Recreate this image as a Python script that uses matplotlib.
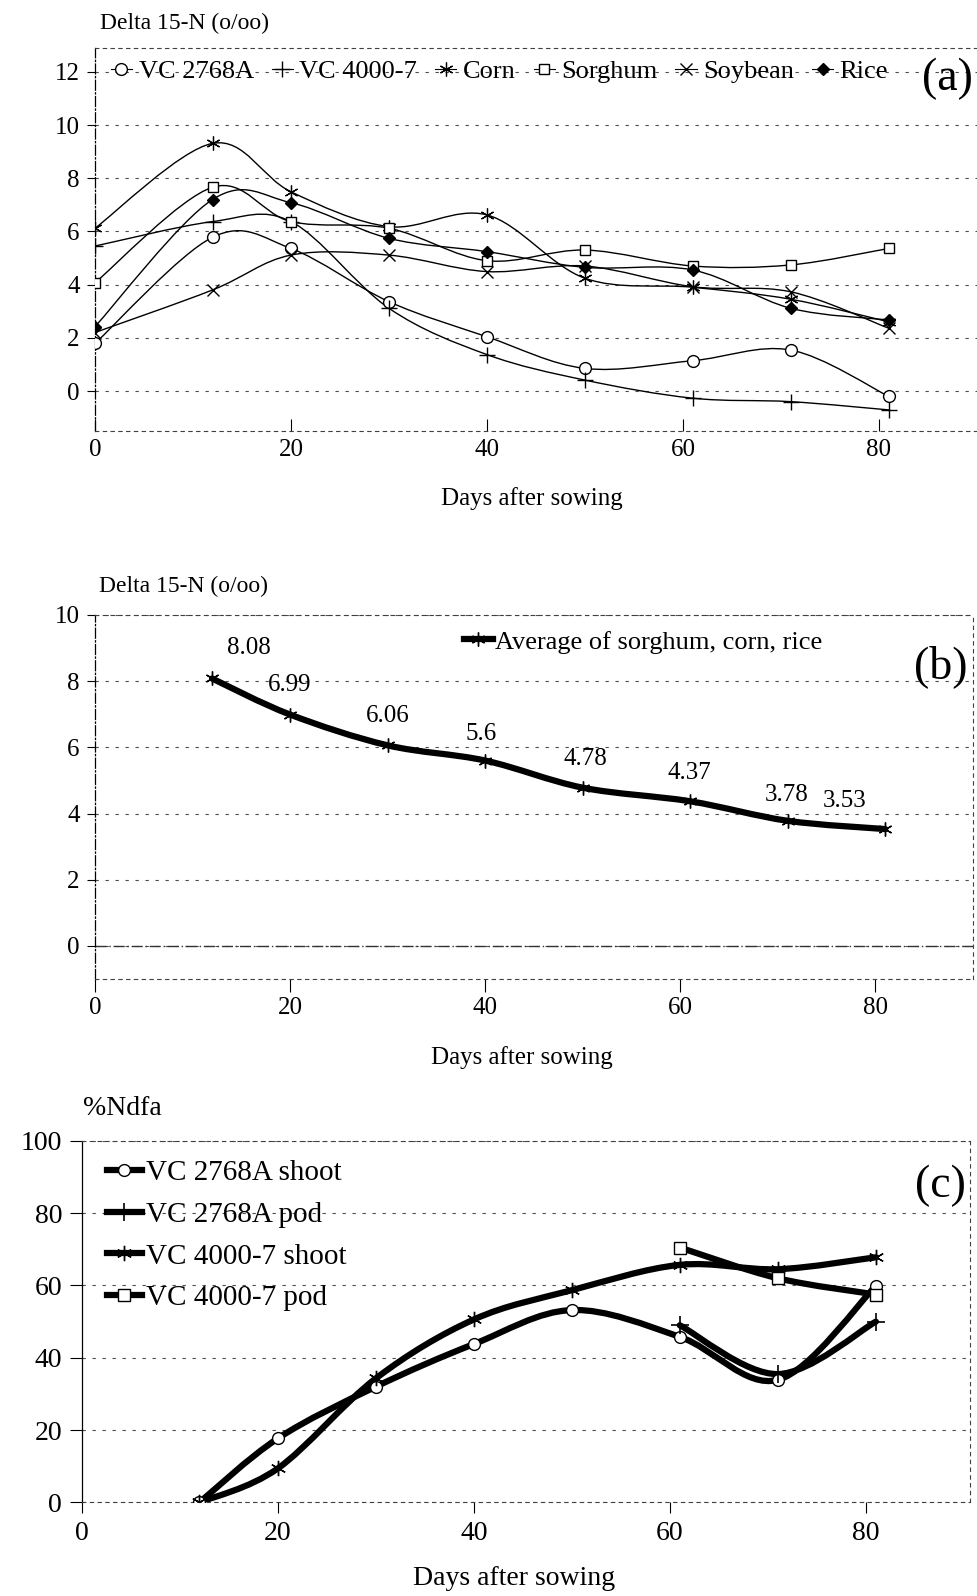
import numpy as np
import matplotlib
matplotlib.use('Agg')
import matplotlib.pyplot as plt
from matplotlib.path import Path
from matplotlib.patches import PathPatch
from matplotlib.lines import Line2D

plt.rcParams['font.family'] = ['Liberation Serif', 'DejaVu Serif']

# (a) delta 15N of the test plants
days_a = [0, 12, 20, 30, 40, 50, 61, 71, 81]
vc2768a = [1.79, 5.78, 5.36, 3.36, 2.04, 0.85, 1.14, 1.54, -0.2]
vc4000 = [5.45, 6.37, 6.37, 3.11, 1.37, 0.41, -0.27, -0.4, -0.71]
corn = [6.12, 9.31, 7.49, 6.18, 6.62, 4.24, 3.9, 3.45, 2.6]
sorghum = [4.07, 7.66, 6.37, 6.12, 4.9, 5.3, 4.7, 4.74, 5.36]
soybean = [2.2, 3.8, 5.11, 5.11, 4.49, 4.7, 3.92, 3.73, 2.36]
rice = [2.42, 7.2, 7.08, 5.74, 5.24, 4.65, 4.55, 3.11, 2.67]

# (b) average of the reference plants
days_b = [12, 20, 30, 40, 50, 61, 71, 81]
avg_ref = [8.08, 6.99, 6.06, 5.6, 4.78, 4.37, 3.78, 3.53]

# (c) %Ndfa
days_c = [12, 20, 30, 40, 50, 61, 71, 81]
vc2768a_shoot = [0, 17.7, 32.0, 43.8, 53.2, 45.8, 33.9, 59.9]
vc4000_shoot = [0, 9.4, 34.3, 50.6, 58.7, 65.7, 64.5, 67.8]
days_pod = [61, 71, 81]
vc2768a_pod = [49.0, 35.5, 50.0]
vc4000_pod = [70.5, 62.0, 57.5]

ASTER = (6, 2, 0)


def smooth_line(ax, xs, ys, lw):
    # Excel-style smoothed line (Bezier through the points)
    p = np.column_stack([xs, ys]).astype(float)
    n = len(p)
    verts = [p[0]]
    codes = [Path.MOVETO]
    for i in range(n - 1):
        p0 = p[max(i - 1, 0)]
        p1 = p[i]
        p2 = p[i + 1]
        p3 = p[min(i + 2, n - 1)]
        verts += [p1 + (p2 - p0) / 6, p2 - (p3 - p1) / 6, p2]
        codes += [Path.CURVE4] * 3
    ax.add_patch(PathPatch(Path(verts, codes), fill=False, ec='black', lw=lw,
                           capstyle='round', joinstyle='round', zorder=2))


def frame(ax, right=True):
    ax.spines['left'].set_linestyle((0, (8, 2, 1, 2)))
    ax.spines['left'].set_linewidth(0.9)
    for s in ['top', 'bottom', 'right']:
        ax.spines[s].set_linestyle((0, (3, 4)))
        ax.spines[s].set_linewidth(0.8)
        ax.spines[s].set_color('0.25')
    ax.spines['right'].set_visible(right)
    ax.grid(axis='y', linestyle=(0, (3, 6)), linewidth=0.8, color='0.3')
    ax.set_axisbelow(True)


fig = plt.figure(figsize=(9.78, 15.96), dpi=100)

# ---------------- (a) ----------------
ax1 = fig.add_axes([0.0971, 0.730, 0.9018, 0.240])
series_a = [
    ('VC 2768A', vc2768a, dict(marker='o', ms=8.5, mfc='white')),
    ('VC 4000-7', vc4000, dict(marker='+', ms=11, mew=1.0)),
    ('Corn', corn, dict(marker=ASTER, ms=10, mew=0.9)),
    ('Sorghum', sorghum, dict(marker='s', ms=7.5, mfc='white')),
    ('Soybean', soybean, dict(marker='x', ms=9, mew=1.0)),
    ('Rice', rice, dict(marker='D', ms=6, mfc='black')),
]
handles = []
for name, vals, st in series_a:
    smooth_line(ax1, days_a, vals, 1.0)
    ax1.plot(days_a, vals, ls='none', color='black', mec='black', zorder=3, **st)
    handles.append(Line2D([], [], color='black', lw=0.8, mec='black', **st))
ax1.set_xlim(0, 90)
ax1.set_ylim(-1.5, 12.9)
ax1.set_xticks([0, 20, 40, 60, 80])
ax1.set_yticks([0, 2, 4, 6, 8, 10, 12])
ax1.tick_params(axis='x', direction='in', length=9, pad=6, labelsize=18)
ax1.tick_params(axis='y', direction='out', length=6, pad=5, labelsize=18)
frame(ax1, right=False)
ax1.legend(handles, [s[0] for s in series_a], ncol=6, loc='center left',
           bbox_to_anchor=(0.018, 0.938), frameon=False, fontsize=19,
           handlelength=0.8, handletextpad=0.25, columnspacing=0.68,
           borderpad=0, borderaxespad=0)
ax1.text(0.966, 0.919, '(a)', transform=ax1.transAxes, fontsize=33,
         ha='center', va='center')
ax1.set_ylabel('Delta 15-N (o/oo)', rotation=0, ha='left', va='center', fontsize=17)
ax1.yaxis.set_label_coords(0.006, 1.063)
ax1.set_xlabel('Days after sowing', fontsize=18, va='center')
ax1.xaxis.set_label_coords(0.4955, -0.1775)

# ---------------- (b) ----------------
ax2 = fig.add_axes([0.0971, 0.3866, 0.8978, 0.2281])
smooth_line(ax2, days_b, avg_ref, 4.5)
ax2.plot(days_b, avg_ref, ls='none', marker=ASTER, ms=10, mew=1.0,
         color='black', zorder=3)
label_off = [(37, 30), (0, 30), (0, 29), (-4, 27), (3, 29), (-1, 28), (-1, 26), (-41, 28)]
for x, v, off in zip(days_b, avg_ref, label_off):
    ax2.annotate(f'{v:g}', (x, v), xytext=off, textcoords='offset pixels',
                 ha='center', va='center', fontsize=18)
ax2.set_xlim(0, 90)
ax2.set_ylim(-1, 10)
ax2.set_xticks([0, 20, 40, 60, 80])
ax2.set_yticks([0, 2, 4, 6, 8, 10])
ax2.tick_params(axis='x', direction='out', length=9, pad=4, labelsize=18)
ax2.tick_params(axis='y', direction='out', length=6, pad=5, labelsize=18)
frame(ax2)
ax2.axhline(0, color='0.2', lw=1.0, ls=(0, (8, 2, 1, 2)), zorder=1)
ax2.legend([Line2D([], [], color='black', lw=4.5, marker=ASTER, ms=10, mew=1.0)],
           ['Average of sorghum, corn, rice'], loc='center left',
           bbox_to_anchor=(0.42, 0.926), frameon=False, fontsize=19,
           handlelength=1.1, handletextpad=0.1, borderpad=0, borderaxespad=0)
ax2.text(0.9636, 0.857, '(b)', transform=ax2.transAxes, fontsize=33,
         ha='center', va='center')
ax2.set_ylabel('Delta 15-N (o/oo)', rotation=0, ha='left', va='center', fontsize=17)
ax2.yaxis.set_label_coords(0.0046, 1.077)
ax2.set_xlabel('Days after sowing', fontsize=18, va='center')
ax2.xaxis.set_label_coords(0.486, -0.217)

# ---------------- (c) ----------------
ax3 = fig.add_axes([0.0835, 0.0586, 0.9083, 0.2266])
series_c = [
    ('VC 2768A shoot', days_c, vc2768a_shoot, dict(marker='o', ms=8.5, mfc='white')),
    ('VC 2768A pod', days_pod, vc2768a_pod, dict(marker='+', ms=13, mew=1.2)),
    ('VC 4000-7 shoot', days_c, vc4000_shoot, dict(marker=ASTER, ms=11, mew=1.0)),
    ('VC 4000-7 pod', days_pod, vc4000_pod, dict(marker='s', ms=8, mfc='white')),
]
handles = []
for name, xs, vals, st in series_c:
    smooth_line(ax3, xs, vals, 4.5)
    ax3.plot(xs, vals, ls='none', color='black', mec='black', zorder=3, **st)
    handles.append(Line2D([], [], color='black', lw=4.5, mec='black', **st))
ax3.set_xlim(0, 90.6)
ax3.set_ylim(0, 100)
ax3.set_xticks([0, 20, 40, 60, 80])
ax3.set_yticks([0, 20, 40, 60, 80, 100])
ax3.tick_params(axis='x', direction='out', length=8, pad=5, labelsize=20)
ax3.tick_params(axis='y', direction='out', length=9, pad=5, labelsize=20)
frame(ax3)
ax3.spines['left'].set_linestyle('-')
ax3.legend(handles, [s[0] for s in series_c], loc='upper left',
           bbox_to_anchor=(0.028, 0.947), frameon=False, fontsize=21,
           handlelength=1.2, handletextpad=0.15, labelspacing=0.52,
           borderpad=0, borderaxespad=0)
ax3.text(0.967, 0.875, '(c)', transform=ax3.transAxes, fontsize=33,
         ha='center', va='center')
ax3.set_ylabel('%Ndfa', rotation=0, ha='left', va='center', fontsize=20)
ax3.yaxis.set_label_coords(0.0015, 1.088)
ax3.set_xlabel('Days after sowing', fontsize=20, va='center')
ax3.xaxis.set_label_coords(0.4867, -0.2115)

fig.savefig('out.png', dpi=100)
